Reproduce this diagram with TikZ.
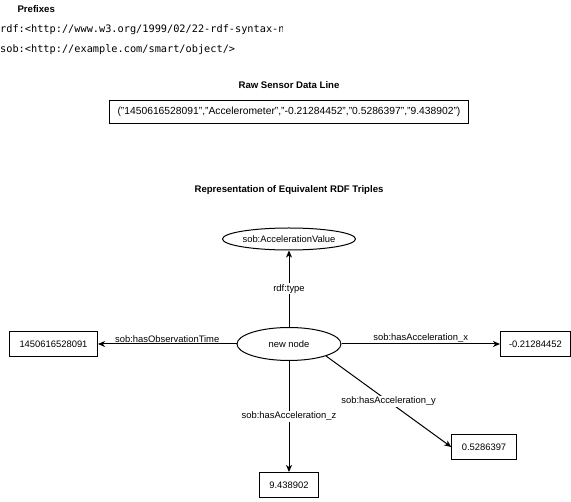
\documentclass[tikz,border=0pt]{standalone}
\usepackage{fontspec}
\setmainfont{Liberation Sans}
\setmonofont{DejaVu Sans Mono}
\usepackage{tikz}
\usetikzlibrary{
    positioning,           % Relative positioning
    shapes.geometric,      % Ellipses
    arrows.meta            % Modern arrow tips
}
\tikzset{lit/.style={
    draw, rectangle, line width=1pt, minimum height=25pt,
    inner xsep=10pt, inner ysep=0pt,
    font=\fontsize{9.4}{11}\selectfont
}}
\tikzset{res/.style={
    draw, ellipse, line width=1pt, inner sep=0pt,
    font=\fontsize{9.4}{11}\selectfont
}}
\tikzset{rel/.style={
    line width=1pt, -{Stealth[length=7pt,width=6pt,inset=2pt]}
}}
\tikzset{lbl/.style={
    fill=white, inner sep=1pt, font=\fontsize{9.4}{11}\selectfont
}}
\tikzset{ttl/.style={font=\fontsize{9.6}{11}\selectfont\bfseries}}
\tikzset{pfx/.style={inner sep=0pt, font=\ttfamily\fontsize{10.27}{12}\selectfont}}

\begin{document}
\begin{tikzpicture}[x=1pt,y=-1pt]
    \useasboundingbox (0,0) rectangle (571,502);
    \node[ttl, anchor=west] (prefixes) at (14,9) {Prefixes};
    \begin{scope}
        \clip (0,18) rectangle (282,42);
        \node[pfx, anchor=west] (rdfpfx) at (0,30) {rdf:<http://www.w3.org/1999/02/22-rdf-syntax-ns\#>};
    \end{scope}
    \node[pfx, anchor=west] (sobpfx) at (0,50) {sob:<http://example.com/smart/object/>};

    \node[ttl] (rawtitle) at (289,85) {Raw Sensor Data Line};
    \node[lit, minimum height=23pt, inner xsep=8pt, font=\fontsize{10.3}{12}\selectfont] (rawline) at (289,112)
        {("1450616528091","Accelerometer","-0.21284452","0.5286397","9.438902")};

    \node[ttl] (rdftitle) at (289,190) {Representation of Equivalent RDF Triples};
    \node[res, minimum width=133pt, minimum height=22pt] (accval) at (289,239) {sob:AccelerationValue};
    \node[res, minimum width=104pt, minimum height=33pt] (newnode) at (289,344) {new node};
    \node[lit] (littime) at (53.5,344) {1450616528091};
    \node[lit, anchor=west, inner xsep=8.5pt] (litx) at (500,344) {-0.21284452};
    \node[lit] (lity) at (484,447) {0.5286397};
    \node[lit] (litz) at (289,485) {9.438902};

    \draw[rel] (newnode) -- node[lbl] {rdf:type} (accval);
    \draw[rel] (newnode) -- node[lbl, above] {sob:hasObservationTime} (littime);
    \draw[rel] (newnode) -- node[lbl, above] {sob:hasAcceleration\_x} (litx);
    \draw[rel] (newnode.-18) -- node[lbl] {sob:hasAcceleration\_y} (lity.west);
    \draw[rel] (newnode) -- node[lbl] {sob:hasAcceleration\_z} (litz);
\end{tikzpicture}
\end{document}
